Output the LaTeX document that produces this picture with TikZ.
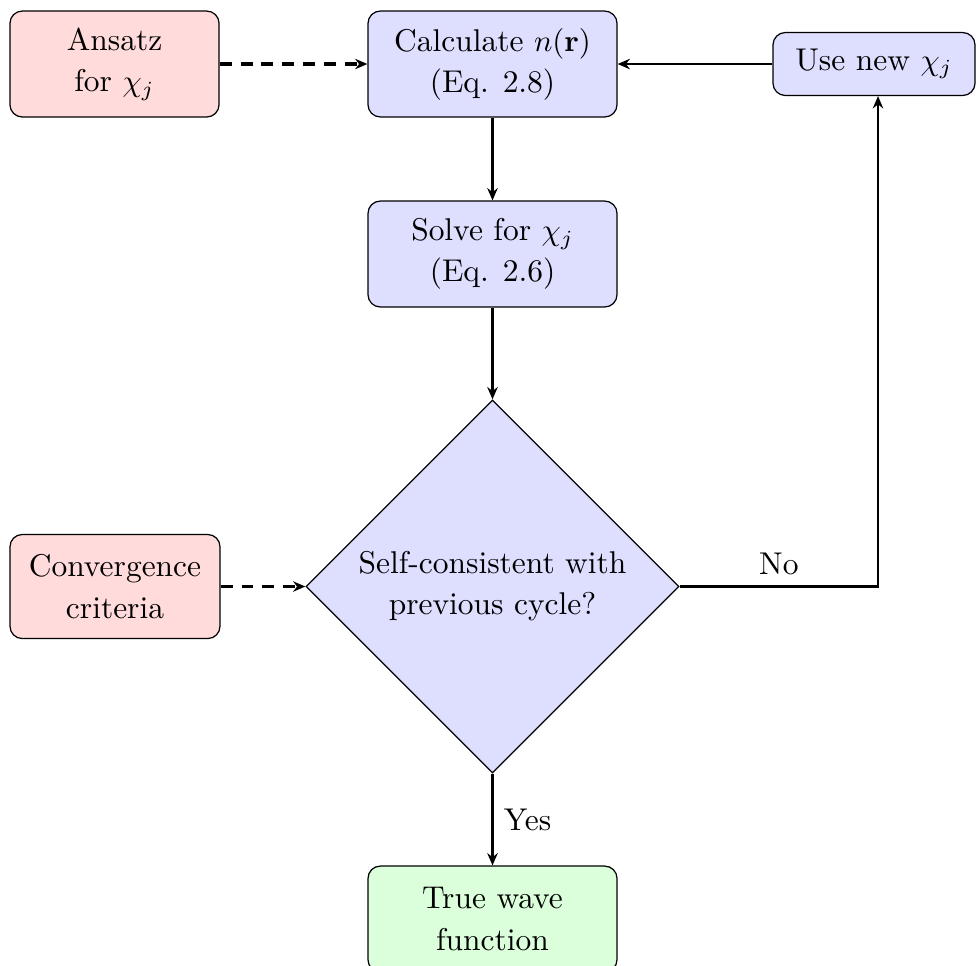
\documentclass[tikz,border=0pt]{standalone}
\usetikzlibrary{shapes.geometric,arrows.meta}
\begin{document}
\begin{tikzpicture}[x=0.3257pt,y=-0.3257pt,
  every node/.style={font=\fontsize{10.25}{13.4}\selectfont},
  boxbase/.style={draw, rounded corners=4pt, align=center, inner sep=0pt},
  pinkbox/.style={boxbase, fill=red!14},
  bluebox/.style={boxbase, fill=blue!13},
  greenbox/.style={boxbase, fill=green!14},
  decision/.style={draw, diamond, aspect=1, fill=blue!13, align=center, inner sep=0pt, minimum width=121.5pt, minimum height=121.5pt},
  flow/.style={line width=0.7pt, -{Stealth[length=4pt,width=3.4pt]}},
  dflow/.style={line width=1.2pt, dash pattern=on 3.9pt off 2.9pt, -{Stealth[length=4pt,width=3.4pt]}}
]
\useasboundingbox (0,0) rectangle (976,965);
\node[pinkbox, minimum width=68.1pt, minimum height=34.5pt] (ans) at (114.5,64) {Ansatz\\for $\chi_j$};
\node[bluebox, minimum width=81.1pt, minimum height=34.5pt] (calc) at (492.5,64) {Calculate $n(\mathbf{r})$\\(Eq. 2.8)};
\node[bluebox, minimum width=65.8pt, minimum height=20.5pt] (use) at (874,64) {Use new $\chi_j$};
\node[bluebox, minimum width=81.1pt, minimum height=34.5pt] (solve) at (492.5,254) {Solve for $\chi_j$\\(Eq. 2.6)};
\node[decision] (dec) at (492.5,586.5) {Self-consistent with\\previous cycle?};
\node[pinkbox, minimum width=68.4pt, minimum height=33.9pt] (conv) at (115,586.5) {Convergence\\criteria};
\node[greenbox, minimum width=81.1pt, minimum height=34.5pt] (true) at (492.5,919) {True wave\\function};
\coordinate (corner) at (878,586.5);
\draw[dflow] (ans) -- (calc);
\draw[dflow] (conv) -- (dec);
\draw[flow] (calc) -- (solve);
\draw[flow] (solve) -- (dec);
\draw[flow] (dec.east) -- node[above] {No} (corner) -- (corner |- use.south);
\draw[flow] (use) -- (calc);
\draw[flow] (dec.south) -- node[right] {Yes} (true.north);
\end{tikzpicture}
\end{document}
